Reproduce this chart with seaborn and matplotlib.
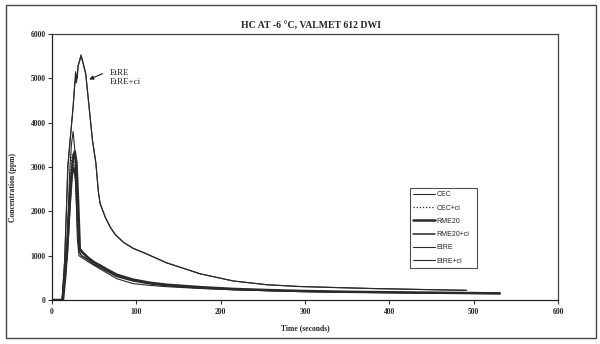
import numpy as np
import pandas as pd
import matplotlib
matplotlib.use("Agg")
import matplotlib.pyplot as plt
import matplotlib.patches as mpatches
import seaborn as sns

sns.set_theme(style="white")
plt.rcParams['font.family'] = ['Liberation Serif', 'DejaVu Serif']

# --- data (time in s, concentration in ppm) ---
t_cec = [0, 12, 15, 18, 21, 23, 25, 27, 28, 30, 32, 36, 43, 50, 57, 66, 77, 96, 116, 136, 176, 215, 255, 294, 350, 400, 450, 492]
v_cec = [0, 0, 650, 1400, 2900, 3500, 3800, 3400, 2800, 1400, 1000, 950, 860, 780, 700, 600, 480, 370, 330, 300, 260, 230, 210, 190, 175, 165, 158, 150]

t_cecci = [0, 13, 16, 19, 22, 24, 26, 28, 30, 32, 36, 43, 50, 57, 66, 77, 96, 116, 136, 176, 215, 255, 294, 350, 400, 450, 510]
v_cecci = [0, 0, 700, 1700, 2900, 3300, 3150, 2600, 1700, 1150, 1050, 920, 820, 740, 650, 540, 440, 380, 330, 275, 240, 215, 195, 180, 170, 160, 152]

t_rme = [0, 13, 16, 19, 22, 25, 27, 29, 31, 33, 36, 43, 50, 57, 66, 77, 96, 116, 136, 176, 215, 255, 294, 350, 400, 450, 531]
v_rme = [0, 0, 600, 1500, 2600, 3200, 3350, 3100, 2200, 1150, 1080, 950, 850, 780, 680, 570, 460, 390, 345, 290, 250, 225, 205, 185, 175, 165, 150]

t_rmeci = [0, 12, 15, 18, 21, 24, 26, 28, 30, 32, 35, 43, 50, 57, 66, 77, 96, 116, 136, 176, 215, 255, 294, 350, 400, 450, 531]
v_rmeci = [0, 0, 600, 950, 2000, 2800, 3000, 2700, 1900, 1100, 1000, 900, 800, 730, 640, 530, 430, 365, 320, 270, 235, 215, 195, 180, 170, 160, 145]

t_etre = [0, 12, 15, 17, 18.6, 21.4, 25, 27, 28, 29, 31, 33, 34.4, 36, 40, 44, 48, 52, 55, 57, 63, 69, 75, 85, 96, 110, 136, 176, 215, 255, 294, 340, 380, 420, 460, 492]
v_etre = [0, 0, 900, 2000, 3000, 3600, 4360, 4900, 5150, 4900, 5300, 5420, 5530, 5420, 5117, 4360, 3610, 3100, 2450, 2190, 1880, 1650, 1480, 1300, 1170, 1060, 840, 590, 430, 345, 305, 280, 260, 245, 230, 220]

t_etreci = [0, 12, 15, 17, 19, 21.6, 25, 27, 29, 30, 31, 33, 34, 36, 40, 44, 48, 52, 55, 57, 63, 69, 75, 85, 96, 110, 136, 176, 215, 255, 294, 340, 380, 420, 460, 490]
v_etreci = [0, 0, 880, 1950, 3020, 3620, 4330, 4860, 5080, 5000, 5280, 5400, 5500, 5400, 5090, 4340, 3590, 3080, 2430, 2170, 1870, 1640, 1470, 1295, 1165, 1055, 835, 588, 428, 343, 303, 278, 258, 243, 228, 218]

series = ["CEC", "CEC+ci", "RME20", "RME20+ci", "EtRE", "EtRE+ci"]
times = [t_cec, t_cecci, t_rme, t_rmeci, t_etre, t_etreci]
values = [v_cec, v_cecci, v_rme, v_rmeci, v_etre, v_etreci]
styles = {
    "CEC": dict(lw=0.8, ls="-"),
    "CEC+ci": dict(lw=0.9, ls=(0, (1, 1.5))),
    "RME20": dict(lw=1.8, ls="-"),
    "RME20+ci": dict(lw=1.1, ls="-"),
    "EtRE": dict(lw=0.8, ls="-"),
    "EtRE+ci": dict(lw=0.8, ls="-"),
}

x_ticks = [0, 100, 200, 300, 400, 500, 600]
y_ticks = [0, 1000, 2000, 3000, 4000, 5000, 6000]

fig = plt.figure(figsize=(6.0, 3.44), dpi=100)
fig.patch.set_facecolor("white")
ax = fig.add_axes([52/600, 1-300/344, 506/600, 266/344])

for name, t, v in zip(series, times, values):
    df = pd.DataFrame({"t": t, "v": v})
    sns.lineplot(data=df, x="t", y="v", ax=ax, color="#2a2a2a",
                 linewidth=styles[name]["lw"], linestyle=styles[name]["ls"],
                 label=name, estimator=None, sort=False)

ax.set_xlim(0, 600)
ax.set_ylim(0, 6000)
ax.set_xticks(x_ticks)
ax.set_yticks(y_ticks)
ax.set_xticklabels([str(x) for x in x_ticks], fontsize=5.5, fontweight="bold")
ax.set_yticklabels([str(y) for y in y_ticks], fontsize=5.5, fontweight="bold")
ax.tick_params(axis="both", direction="out", length=3, width=0.8, color="#333",
               bottom=True, left=True)
ax.tick_params(axis="y", pad=1.5)
ax.tick_params(axis="x", pad=3)
for sp in ax.spines.values():
    sp.set_color("#444")
    sp.set_linewidth(0.9)
ax.spines["left"].set_color("#222")
ax.spines["bottom"].set_color("#222")

ax.set_xlabel("Time (seconds)", fontsize=5.5, fontweight="bold")
ax.set_ylabel("Concentration (ppm)", fontsize=5.5, fontweight="bold")
ax.xaxis.set_label_coords((305-52)/506, -(324-300)/266)
ax.yaxis.set_label_coords((17-52)/506, (300-187)/266)

fig.text(311/600, 1-25/344, "HC AT -6 °C, VALMET 612 DWI", ha="center", va="center",
         fontsize=7, fontweight="bold")

ax.text(69, 5010, "EtRE\nEtRE+ci", fontsize=6.5, ha="left", va="center", linespacing=1.15)
ax.annotate("", xy=(41, 4950), xytext=(63, 5130),
            arrowprops=dict(arrowstyle="-|>", color="#222", lw=0.8, mutation_scale=6))

leg = ax.legend(loc="lower left", bbox_to_anchor=(0.707, 0.12, 0.133, 0.31), mode="expand",
                fontsize=5, frameon=True, fancybox=False, handlelength=3.2,
                handletextpad=0.1, borderpad=0.5, labelspacing=0.9, borderaxespad=0)
leg.get_frame().set_edgecolor("#222")
leg.get_frame().set_linewidth(0.8)
for txt in leg.get_texts():
    txt.set_fontfamily(["Liberation Sans", "DejaVu Sans"])

fig.patches.append(mpatches.Rectangle((6/600, 1-338/344), 590/600, 333/344,
                                      transform=fig.transFigure, fill=False,
                                      edgecolor="#444", linewidth=1.0))

fig.savefig("out.png", dpi=100, facecolor="white")
